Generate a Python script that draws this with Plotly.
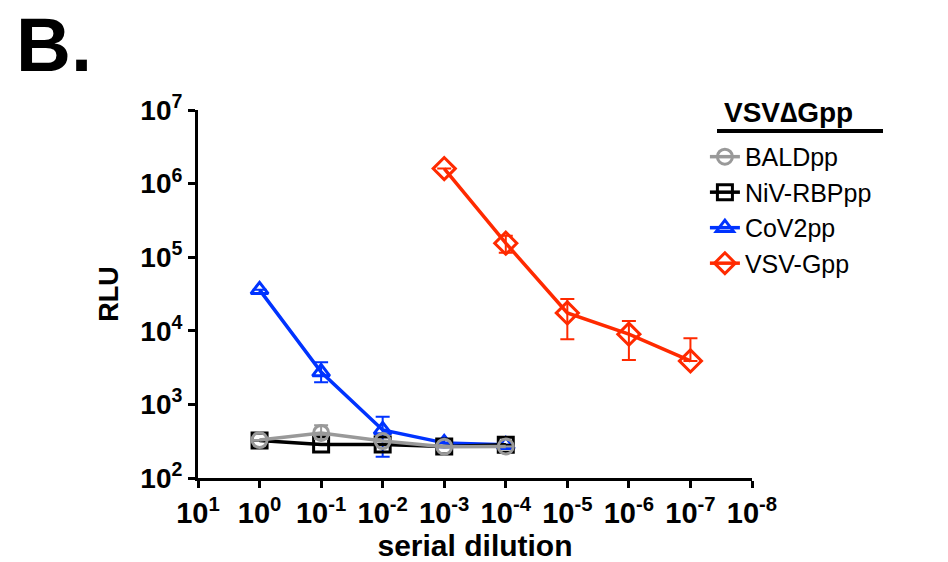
import plotly.graph_objects as go

# ---- data ----
dil_low = [1, 1e-1, 1e-2, 1e-3, 1e-4]
dil_vsvg = [1e-3, 1e-4, 1e-5, 1e-6, 1e-7]

bald = [328, 410, 318, 266, 268]
bald_err_p = [0, 110, 0, 0, 0]
bald_err_m = [0, 70, 0, 0, 0]

niv = [322, 285, 285, 268, 282]
niv_err_p = [0, 0, 0, 0, 0]
niv_err_m = [0, 0, 0, 0, 0]

cov2 = [36000, 2750, 450, 300, 282]
cov2_err_p = [0, 1000, 230, 30, 0]
cov2_err_m = [0, 750, 255, 0, 25]

vsvg = [1.6e6, 1.55e5, 1.75e4, 9.0e3, 3.9e3]
vsvg_err_p = [0, 4.0e4, 9.5e3, 4.6e3, 4.0e3]
vsvg_err_m = [0, 4.0e4, 9.8e3, 5.0e3, 0]

x_tickvals = [10, 1, 1e-1, 1e-2, 1e-3, 1e-4, 1e-5, 1e-6, 1e-7, 1e-8]
x_ticktext = ["10<sup>1</sup>", "10<sup>0</sup>", "10<sup>-1</sup>", "10<sup>-2</sup>",
              "10<sup>-3</sup>", "10<sup>-4</sup>", "10<sup>-5</sup>", "10<sup>-6</sup>",
              "10<sup>-7</sup>", "10<sup>-8</sup>"]
y_tickvals = [1e2, 1e3, 1e4, 1e5, 1e6, 1e7]
y_ticktext = ["10<sup>2</sup>", "10<sup>3</sup>", "10<sup>4</sup>", "10<sup>5</sup>",
              "10<sup>6</sup>", "10<sup>7</sup>"]

FONT = "Liberation Sans, Arial, sans-serif"

series = [
    ("VSV-Gpp", dil_vsvg, vsvg, vsvg_err_p, vsvg_err_m, "#FF2A00", "diamond-open", 17),
    ("CoV2pp", dil_low, cov2, cov2_err_p, cov2_err_m, "#0033FF", "triangle-up-open", 15),
    ("NiV-RBPpp", dil_low, niv, niv_err_p, niv_err_m, "#000000", "square-open", 15),
    ("BALDpp", dil_low, bald, bald_err_p, bald_err_m, "#999999", "circle-open", 15),
]

fig = go.Figure()
for name, xs, ys, ep, em, col, sym, sz in series:
    fig.add_trace(go.Scatter(
        x=xs, y=ys, name=name, mode="lines+markers",
        legendgroup=name,
        line=dict(color=col, width=3.5),
        marker=dict(symbol=sym, size=sz, color=col, line=dict(color=col, width=3)),
        error_y=dict(type="data", array=ep, arrayminus=em, symmetric=False,
                     color=col, thickness=2, width=7),
    ))

fig.update_layout(
    width=948, height=562,
    margin=dict(l=198, r=196, t=110, b=84),
    paper_bgcolor="white", plot_bgcolor="white",
    font=dict(family=FONT, color="black"),
    showlegend=True,
    legend=dict(
        x=0.915, y=0.935, xanchor="left", yanchor="top",
        traceorder="reversed", tracegroupgap=4,
        font=dict(size=25, family=FONT, color="black"),
        bgcolor="rgba(0,0,0,0)",
    ),
    xaxis=dict(
        type="log", range=[1, -8], automargin=False,
        tickmode="array", tickvals=x_tickvals, ticktext=x_ticktext,
        showgrid=False, zeroline=False,
        showline=True, linecolor="black", linewidth=3,
        ticks="outside", ticklen=7, tickwidth=2.5, tickcolor="black",
        tickfont=dict(size=29, family=FONT, color="black", weight="bold"),
        title=dict(text="<b>serial dilution</b>", font=dict(size=30, family=FONT), standoff=10),
    ),
    yaxis=dict(
        type="log", range=[2, 7], automargin=False,
        tickmode="array", tickvals=y_tickvals, ticktext=y_ticktext,
        showgrid=False, zeroline=False,
        showline=True, linecolor="black", linewidth=3,
        ticks="outside", ticklen=7, tickwidth=2.5, tickcolor="black",
        tickfont=dict(size=28, family=FONT, color="black", weight="bold"),
        title=dict(text="<b>RLU</b>", font=dict(size=27, family=FONT), standoff=14),
    ),
)

fig.add_annotation(text="<b>B.</b>", xref="paper", yref="paper",
                   x=(14 - 198) / 554, y=(478 - 44) / 368, xanchor="left", yanchor="middle",
                   showarrow=False, font=dict(size=76, family=FONT, color="black"))
fig.add_annotation(text="<b>VSV∆Gpp</b>", xref="paper", yref="paper",
                   x=(722 - 198) / 554, y=(478 - 112) / 368, xanchor="left", yanchor="middle",
                   showarrow=False, font=dict(size=28, family=FONT, color="black"))
fig.add_shape(type="line", xref="paper", yref="paper",
              x0=(717 - 198) / 554, x1=(883 - 198) / 554,
              y0=(478 - 131) / 368, y1=(478 - 131) / 368,
              line=dict(color="black", width=4))

fig.write_html("out.html")
